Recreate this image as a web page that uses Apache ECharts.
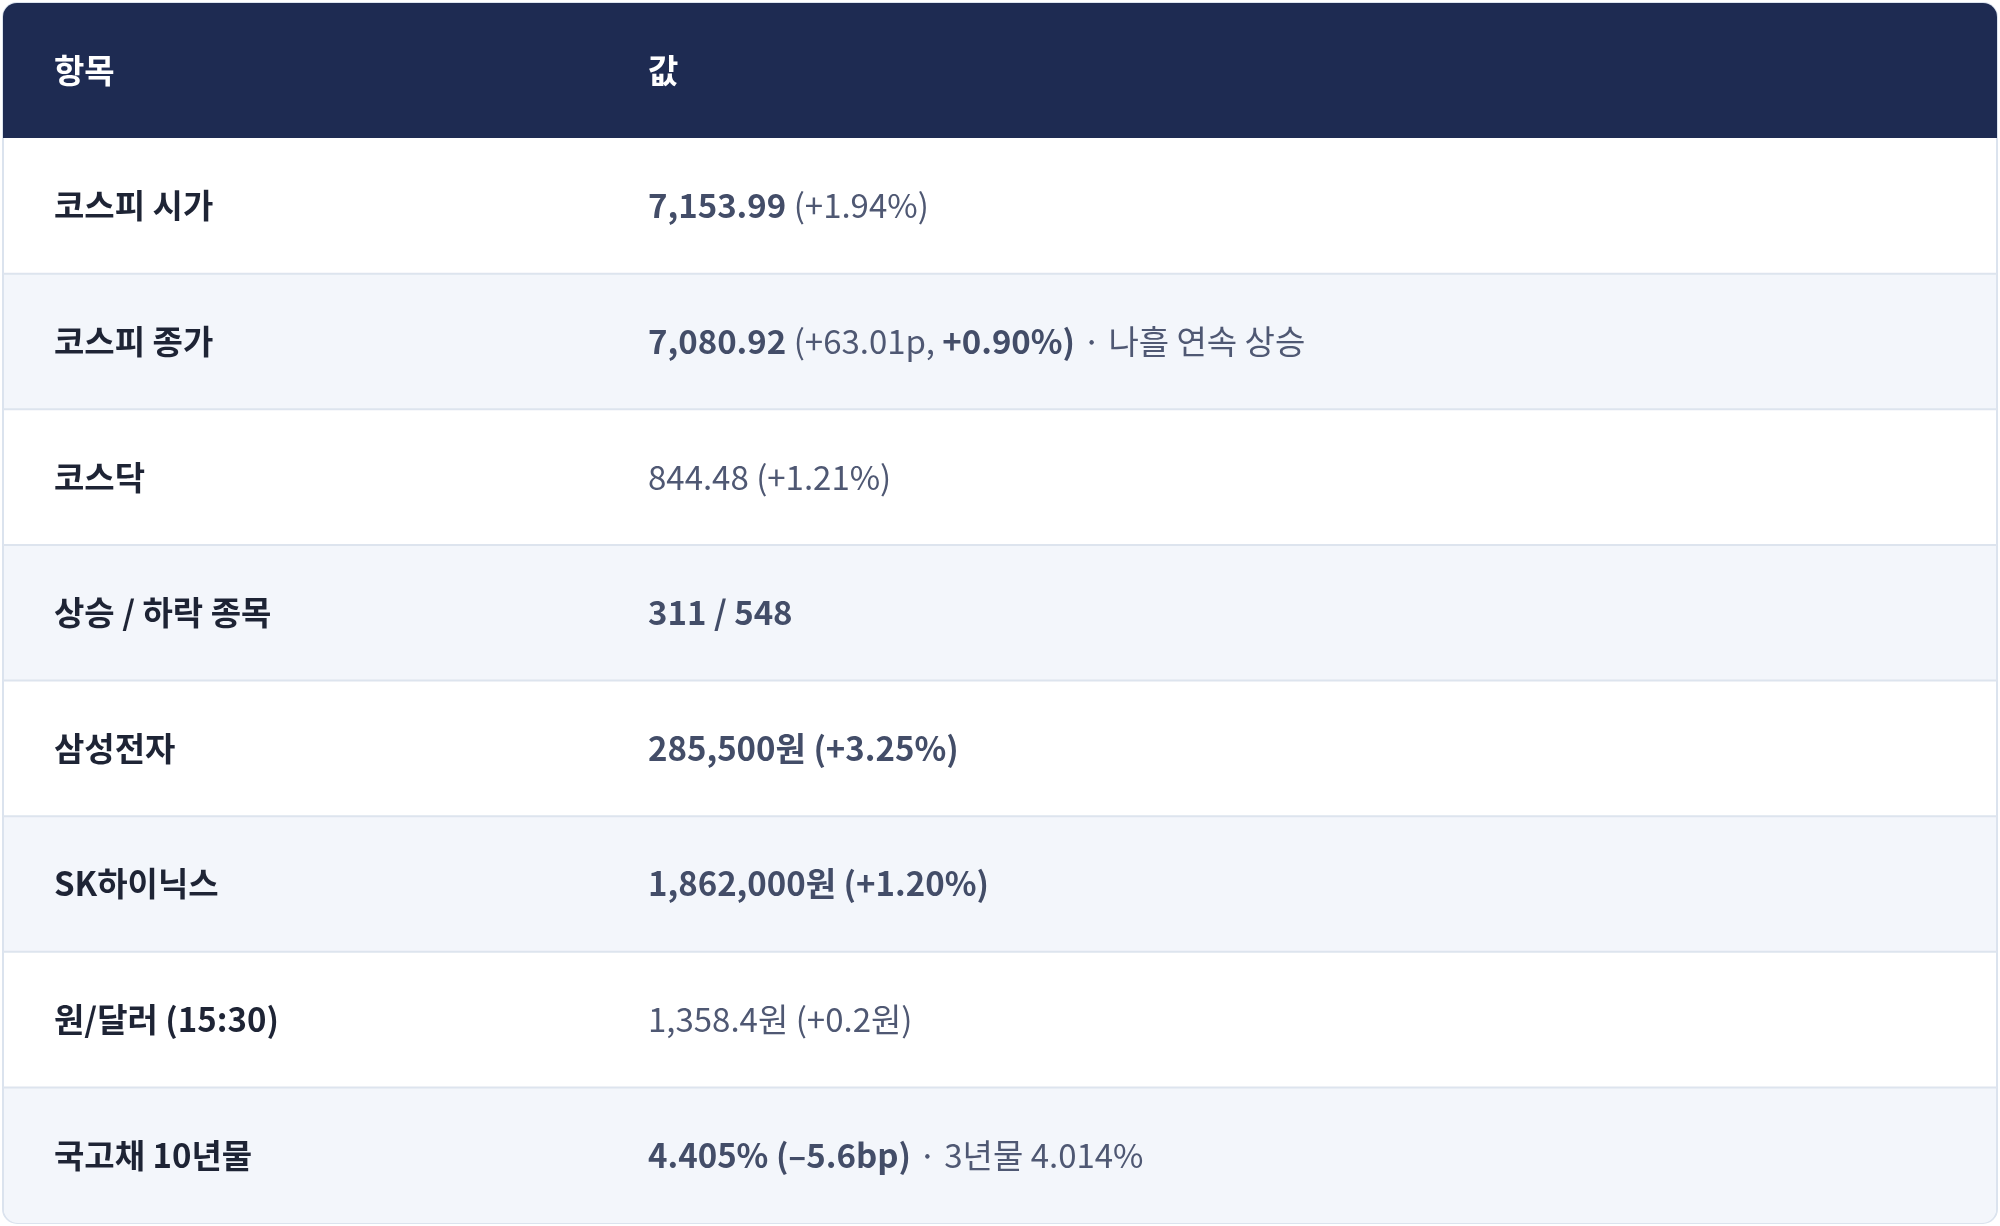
<!DOCTYPE html>
<html><head><meta charset="utf-8">
<script src="https://cdn.jsdelivr.net/npm/echarts@6/dist/echarts.min.js"></script>
<style>html,body{margin:0;padding:0;background:#fff}#c{width:2000px;height:1226px}</style>
</head><body><div id="c"></div>
<script>
const headers = ['항목', '값'];
const labels = ['코스피 시가','코스피 종가','코스닥','상승 / 하락 종목','삼성전자','SK하이닉스','원/달러 (15:30)','국고채 10년물'];
// value segments: [text, bold?]
const values = [
  [['7,153.99',1],[' (+1.94%)',0]],
  [['7,080.92',1],[' (+63.01p, ',0],['+0.90%)',1],[' · 나흘 연속 상승',0]],
  [['844.48 (+1.21%)',0]],
  [['311 / 548',1]],
  [['285,500원 (+3.25%)',1]],
  [['1,862,000원 (+1.20%)',1]],
  [['1,358.4원 (+0.2원)',0]],
  [['4.405% (–5.6bp)',1],[' · 3년물 4.014%',0]]
];
const L=3,R=1997,T=3,B=1223,H=135,X1=54,X2=648;
const rowH=(B-T-H)/labels.length;
const font='"Noto Sans CJK KR","Noto Sans",sans-serif';
const g=[];
g.push({type:'rect',shape:{x:L,y:T,width:R-L,height:B-T,r:14},style:{fill:'#fff',stroke:'#dbe3ee',lineWidth:2}});
labels.forEach((lb,i)=>{
  const y=T+H+i*rowH;
  if(i%2===1) g.push({type:'rect',shape:{x:L+1,y:y,width:R-L-2,height:rowH,r:i===labels.length-1?[0,0,14,14]:0},style:{fill:'#f3f6fb'}});
  if(i>0) g.push({type:'line',shape:{x1:L,y1:y,x2:R,y2:y},style:{stroke:'#dde4ee',lineWidth:2}});
  g.push({type:'text',x:X1,y:y+rowH/2,style:{text:lb,font:'700 33px '+font,fill:'#1e2435',verticalAlign:'middle'}});
  const txt=values[i].map(s=>'{'+(s[1]?'b':'n')+'|'+s[0]+'}').join('');
  g.push({type:'text',x:X2,y:y+rowH/2,style:{text:txt,verticalAlign:'middle',rich:{
    b:{font:'700 33px '+font,fill:'#434d68'},n:{font:'400 33px '+font,fill:'#4f5873'}}}});
});
g.push({type:'rect',shape:{x:L,y:T,width:R-L,height:H,r:[14,14,0,0]},style:{fill:'#1e2b52'}});
g.push({type:'text',x:X1,y:T+H/2,style:{text:headers[0],font:'700 33px '+font,fill:'#fff',verticalAlign:'middle'}});
g.push({type:'text',x:X2,y:T+H/2,style:{text:headers[1],font:'700 33px '+font,fill:'#fff',verticalAlign:'middle'}});
const chart=echarts.init(document.getElementById('c'));
chart.setOption({animation:false,graphic:{elements:g}});
</script></body></html>
